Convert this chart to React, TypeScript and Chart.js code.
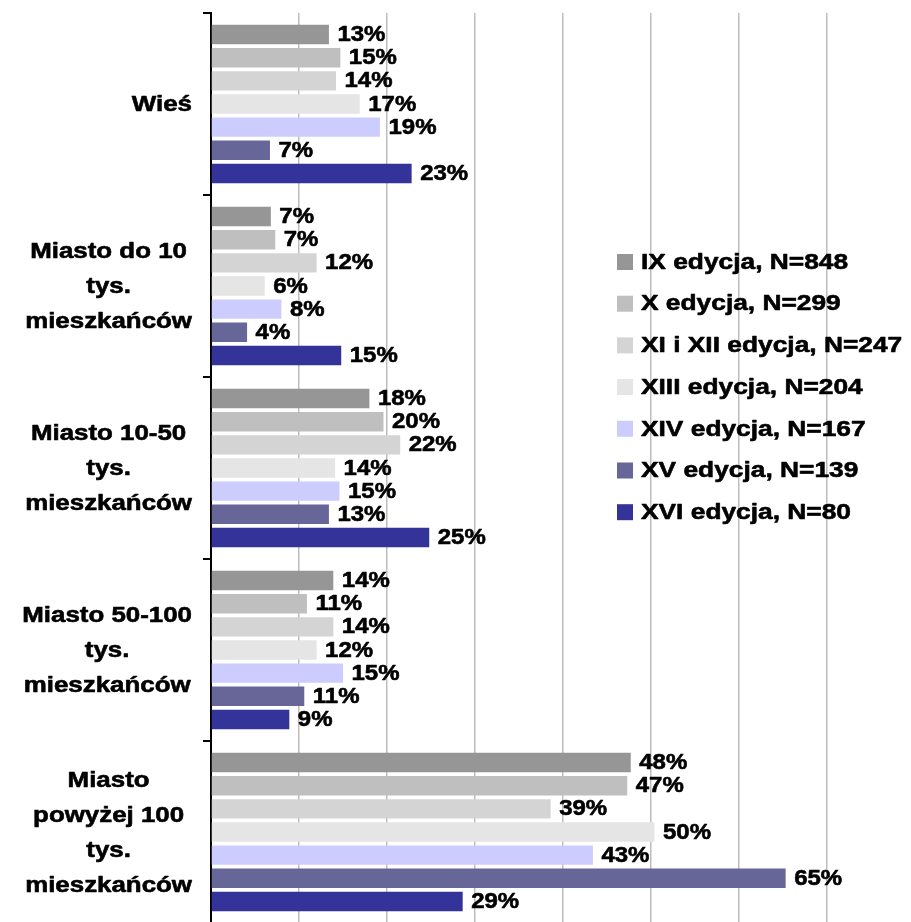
import React, { useEffect, useRef } from "react";
import { Chart, registerables } from "chart.js";

Chart.register(...registerables);

// ---- data ----
const categories: string[][] = [
  ["Wieś"],
  ["Miasto do 10", "tys.", "mieszkańców"],
  ["Miasto 10-50", "tys.", "mieszkańców"],
  ["Miasto 50-100", "tys.", "mieszkańców"],
  ["Miasto", "powyżej 100", "tys.", "mieszkańców"],
];

const seriesLabels = [
  "IX edycja, N=848",
  "X edycja, N=299",
  "XI i XII edycja, N=247",
  "XIII edycja, N=204",
  "XIV edycja, N=167",
  "XV edycja, N=139",
  "XVI edycja, N=80",
];

const seriesColors = ["#969696", "#BFBFBF", "#D4D4D4", "#E5E5E5", "#CCCCFF", "#666699", "#333399"];

// percentages (bar lengths; labels show them rounded)
const edIX = [13.4, 6.8, 18.0, 13.9, 47.7];
const edX = [14.7, 7.3, 19.6, 10.9, 47.3];
const edXI_XII = [14.2, 12.0, 21.5, 13.9, 38.6];
const edXIII = [16.9, 6.1, 14.1, 12.0, 50.4];
const edXIV = [19.2, 8.0, 14.6, 15.0, 43.4];
const edXV = [6.7, 4.1, 13.4, 10.6, 65.3];
const edXVI = [22.8, 14.8, 24.8, 8.9, 28.6];

const seriesValues = [edIX, edX, edXI_XII, edXIII, edXIV, edXV, edXVI];

const xMax = 80;
const xStep = 10;

const FONT = '"Liberation Sans", Arial, sans-serif';

function drawStretched(ctx: CanvasRenderingContext2D, text: string, x: number, y: number, sx: number, align: CanvasTextAlign) {
  ctx.save();
  ctx.translate(x, y);
  ctx.scale(sx, 1);
  ctx.textAlign = align;
  ctx.fillText(text, 0, 0);
  ctx.strokeStyle = "#000";
  ctx.lineWidth = 0.6;
  ctx.lineJoin = "round";
  ctx.strokeText(text, 0, 0);
  ctx.restore();
}

const valueLabelPlugin = {
  id: "valueLabels",
  afterDatasetsDraw(chart: any) {
    const ctx: CanvasRenderingContext2D = chart.ctx;
    ctx.save();
    ctx.font = `bold 22px ${FONT}`;
    ctx.fillStyle = "#000";
    ctx.textBaseline = "middle";
    chart.data.datasets.forEach((ds: any, i: number) => {
      const meta = chart.getDatasetMeta(i);
      meta.data.forEach((bar: any, j: number) => {
        drawStretched(ctx, `${Math.round(ds.data[j])}%`, bar.x + 8.5, bar.y + 0.5, 1.09, "left");
      });
    });
    ctx.restore();
  },
};

const categoryLabelPlugin = {
  id: "categoryLabels",
  afterDraw(chart: any) {
    const ctx: CanvasRenderingContext2D = chart.ctx;
    const yScale = chart.scales.y;
    const sx = 1.15;
    const lh = 35;
    const blockRight = chart.chartArea.left - 19;
    ctx.save();
    ctx.font = `bold 22.5px ${FONT}`;
    ctx.fillStyle = "#000";
    ctx.textBaseline = "middle";
    categories.forEach((lines, j) => {
      const cy = yScale.getPixelForValue(j);
      const maxW = Math.max(...lines.map((l) => ctx.measureText(l).width * sx));
      const cx = blockRight - maxW / 2;
      const n = lines.length;
      lines.forEach((line, i) => {
        const ly = cy + (i - (n - 1) / 2) * lh + 1;
        drawStretched(ctx, line, cx, ly, sx, "center");
      });
    });
    ctx.restore();
  },
};

const legendPlugin = {
  id: "customLegend",
  afterDraw(chart: any) {
    const ctx: CanvasRenderingContext2D = chart.ctx;
    const x0 = 617;
    const y0 = 262;
    const rowH = 41.7;
    const box = 16;
    ctx.save();
    ctx.font = `bold 22.5px ${FONT}`;
    ctx.textBaseline = "middle";
    seriesLabels.forEach((label, i) => {
      const cy = y0 + i * rowH;
      ctx.fillStyle = seriesColors[i];
      ctx.fillRect(x0, cy - box / 2, box, box);
      ctx.fillStyle = "#000";
      drawStretched(ctx, label, x0 + box + 8, cy + 0.5, 1.17, "left");
    });
    ctx.restore();
  },
};

export default function App() {
  const ref = useRef<HTMLCanvasElement | null>(null);

  useEffect(() => {
    if (!ref.current) return;
    const chart = new Chart(ref.current, {
      type: "bar",
      data: {
        labels: categories.map((c) => c.join(" ")),
        datasets: seriesLabels.map((label, i) => ({
          label,
          data: seriesValues[i],
          backgroundColor: seriesColors[i],
          borderWidth: 0,
          categoryPercentage: 0.89,
          barPercentage: 0.84,
        })),
      },
      options: {
        indexAxis: "y",
        responsive: false,
        animation: false,
        devicePixelRatio: 1,
        layout: { padding: { top: 13, bottom: 7, right: 5, left: 0 } },
        plugins: {
          legend: { display: false },
          tooltip: { enabled: false },
          title: { display: false },
        },
        scales: {
          x: {
            type: "linear",
            min: 0,
            max: xMax,
            position: "bottom",
            ticks: { display: false, stepSize: xStep },
            grid: { color: "#BDBDBD", lineWidth: 1.5, drawTicks: false },
            border: { display: false },
            afterFit: (s: any) => {
              s.height = 0;
            },
          },
          y: {
            type: "category",
            position: "left",
            offset: true,
            ticks: { display: false },
            grid: {
              offset: true,
              drawOnChartArea: false,
              drawTicks: true,
              tickLength: 8,
              color: "#000",
              lineWidth: 2,
            },
            border: { display: true, color: "#000", width: 2 },
            afterFit: (s: any) => {
              s.width = 211;
            },
          },
        },
      },
      plugins: [valueLabelPlugin, categoryLabelPlugin, legendPlugin],
    } as any);
    return () => chart.destroy();
  }, []);

  return (
    <canvas
      ref={ref}
      width={920}
      height={930}
      style={{ position: "fixed", left: 0, top: 0, width: "920px", height: "930px" }}
    />
  );
}
